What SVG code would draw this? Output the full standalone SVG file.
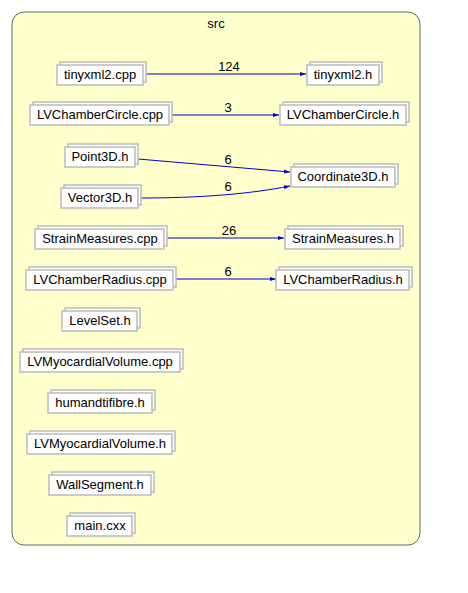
<svg xmlns="http://www.w3.org/2000/svg" width="468" height="593" viewBox="0 0 468 593">
<style>
text{font-family:"Liberation Sans",Arial,sans-serif;font-size:13px;fill:#000;text-anchor:middle}
.b{fill:#fff;stroke:#bfbfbf;stroke-width:1.6}
.e{fill:none;stroke:#0000cc;stroke-width:1}
</style>
<defs>
<marker id="ah" markerWidth="7" markerHeight="6" refX="6" refY="3" orient="auto" markerUnits="userSpaceOnUse">
<path d="M0,1 L6,3 L0,5 Z" fill="#0000cc"/>
</marker>
</defs>
<rect width="468" height="593" fill="#fff"/>
<g id="cluster_src">
<rect x="12" y="12" width="408" height="533" rx="12" fill="#ffffcc" stroke="#666" stroke-width="1"/>
<text x="216" y="28">src</text>
</g>
<g id="edges">
<path class="e" d="M146,74 L306,74" marker-end="url(#ah)"/>
<text x="229" y="71">124</text>
<path class="e" d="M172,115 L279,115" marker-end="url(#ah)"/>
<text x="228" y="112">3</text>
<path class="e" d="M138,159 L290,172" marker-end="url(#ah)"/>
<text x="228" y="164">6</text>
<path class="e" d="M141,198 C200,198 250,194 290,186" marker-end="url(#ah)"/>
<text x="228" y="191">6</text>
<path class="e" d="M167,238 L284,238" marker-end="url(#ah)"/>
<text x="229" y="235">26</text>
<path class="e" d="M176,279 L276,279" marker-end="url(#ah)"/>
<text x="228" y="276">6</text>
</g>
<g id="n_tinyxml2_cpp"><rect class="b" x="60" y="62" width="86" height="20"/><rect class="b" x="57" y="65" width="86" height="20"/><text x="100" y="79">tinyxml2.cpp</text></g>
<g id="n_tinyxml2_h"><rect class="b" x="310" y="62" width="72" height="20"/><rect class="b" x="307" y="65" width="72" height="20"/><text x="343" y="79">tinyxml2.h</text></g>
<g id="n_LVChamberCircle_cpp"><rect class="b" x="33" y="102" width="139" height="20"/><rect class="b" x="30" y="105" width="139" height="20"/><text x="100" y="119">LVChamberCircle.cpp</text></g>
<g id="n_LVChamberCircle_h"><rect class="b" x="283" y="102" width="126" height="20"/><rect class="b" x="280" y="105" width="126" height="20"/><text x="343" y="119">LVChamberCircle.h</text></g>
<g id="n_Point3D_h"><rect class="b" x="68" y="144" width="70" height="20"/><rect class="b" x="65" y="147" width="70" height="20"/><text x="100" y="161">Point3D.h</text></g>
<g id="n_Coordinate3D_h"><rect class="b" x="294" y="164" width="104" height="20"/><rect class="b" x="291" y="167" width="104" height="20"/><text x="343" y="181">Coordinate3D.h</text></g>
<g id="n_Vector3D_h"><rect class="b" x="64" y="185" width="77" height="20"/><rect class="b" x="61" y="188" width="77" height="20"/><text x="100" y="202">Vector3D.h</text></g>
<g id="n_StrainMeasures_cpp"><rect class="b" x="38" y="226" width="129" height="20"/><rect class="b" x="35" y="229" width="129" height="20"/><text x="100" y="243">StrainMeasures.cpp</text></g>
<g id="n_StrainMeasures_h"><rect class="b" x="288" y="226" width="115" height="20"/><rect class="b" x="285" y="229" width="115" height="20"/><text x="343" y="243">StrainMeasures.h</text></g>
<g id="n_LVChamberRadius_cpp"><rect class="b" x="29" y="267" width="147" height="20"/><rect class="b" x="26" y="270" width="147" height="20"/><text x="100" y="284">LVChamberRadius.cpp</text></g>
<g id="n_LVChamberRadius_h"><rect class="b" x="279" y="267" width="133" height="20"/><rect class="b" x="276" y="270" width="133" height="20"/><text x="343" y="284">LVChamberRadius.h</text></g>
<g id="n_LevelSet_h"><rect class="b" x="65" y="308" width="75" height="20"/><rect class="b" x="62" y="311" width="75" height="20"/><text x="100" y="325">LevelSet.h</text></g>
<g id="n_LVMyocardialVolume_cpp"><rect class="b" x="23" y="349" width="160" height="20"/><rect class="b" x="20" y="352" width="160" height="20"/><text x="100" y="366">LVMyocardialVolume.cpp</text></g>
<g id="n_humandtifibre_h"><rect class="b" x="51" y="390" width="104" height="20"/><rect class="b" x="48" y="393" width="104" height="20"/><text x="100" y="407">humandtifibre.h</text></g>
<g id="n_LVMyocardialVolume_h"><rect class="b" x="30" y="431" width="145" height="20"/><rect class="b" x="27" y="434" width="145" height="20"/><text x="100" y="448">LVMyocardialVolume.h</text></g>
<g id="n_WallSegment_h"><rect class="b" x="52" y="472" width="102" height="20"/><rect class="b" x="49" y="475" width="102" height="20"/><text x="100" y="489">WallSegment.h</text></g>
<g id="n_main_cxx"><rect class="b" x="70" y="513" width="65" height="20"/><rect class="b" x="67" y="516" width="65" height="20"/><text x="100" y="530">main.cxx</text></g>
</svg>
